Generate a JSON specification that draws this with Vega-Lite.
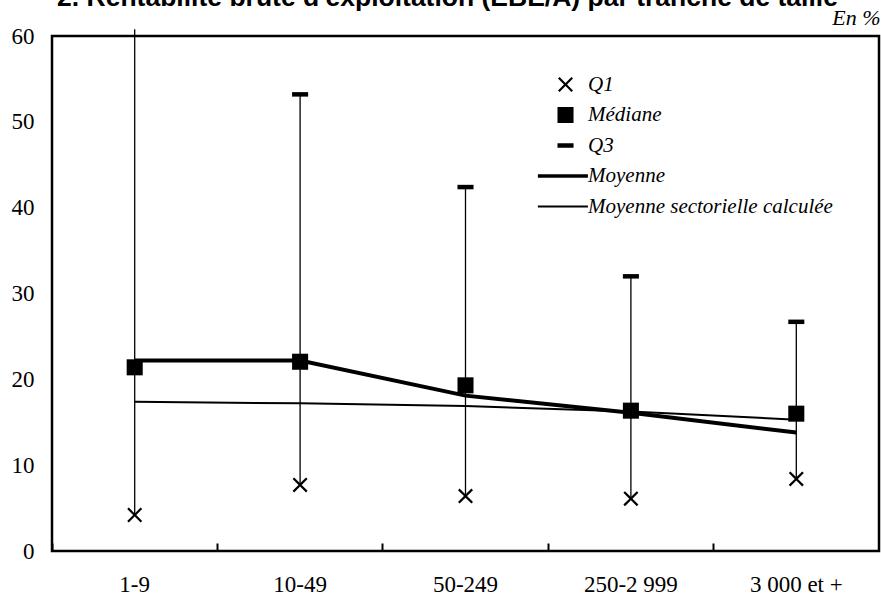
{
  "$schema": "https://vega.github.io/schema/vega-lite/v6.json",
  "width": 827,
  "height": 515,
  "autosize": {"type": "none"},
  "padding": {"left": 52, "top": 36, "right": 2, "bottom": 44},
  "background": "white",
  "title": {
    "text": "2. Rentabilité brute d'exploitation (EBE/A) par tranche de taille",
    "font": "'Liberation Sans', Arial, sans-serif",
    "fontSize": 26.5,
    "fontWeight": "bold",
    "color": "#000",
    "anchor": "middle",
    "baseline": "alphabetic",
    "offset": -26,
    "dx": -18
  },
  "config": {
    "view": {"stroke": "#000", "strokeWidth": 2.5},
    "legend": {"symbolLimit": 0}
  },
  "data": {
    "values": [
      {"tranche": "1-9", "q1": 4.2, "med": 21.4, "q3": 60.8, "moy": 22.2, "sect": 17.4},
      {"tranche": "10-49", "q1": 7.7, "med": 22.05, "q3": 53.2, "moy": 22.2, "sect": 17.2},
      {"tranche": "50-249", "q1": 6.4, "med": 19.3, "q3": 42.4, "moy": 18.1, "sect": 16.9},
      {"tranche": "250-2 999", "q1": 6.1, "med": 16.35, "q3": 32.0, "moy": 16.1, "sect": 16.25},
      {"tranche": "3 000 et +", "q1": 8.4, "med": 16.0, "q3": 26.7, "moy": 13.8, "sect": 15.3}
    ]
  },
  "encoding": {
    "x": {
      "field": "tranche",
      "type": "nominal",
      "sort": null,
      "scale": {"paddingInner": 0, "paddingOuter": 0},
      "axis": {
        "title": null,
        "labelAngle": 0,
        "labelFont": "'Liberation Serif', 'Times New Roman', 'DejaVu Serif', serif",
        "labelFontSize": 23,
        "labelColor": "#000",
        "domain": false,
        "ticks": true,
        "bandPosition": 0,
        "tickSize": -8,
        "tickWidth": 2,
        "tickColor": "#000",
        "labelPadding": 30
      }
    }
  },
  "layer": [
    {
      "mark": {"type": "rule", "color": "#000", "strokeWidth": 1.3},
      "encoding": {
        "y": {
          "field": "q1",
          "type": "quantitative",
          "scale": {"domain": [0, 60], "nice": false},
          "axis": {
            "title": "En %",
            "titleAngle": 0,
            "titleAlign": "right",
            "titleBaseline": "alphabetic",
            "titleX": 828,
            "titleY": -12,
            "titleFont": "'Liberation Serif', 'Times New Roman', 'DejaVu Serif', serif",
            "titleFontStyle": "italic",
            "titleFontWeight": "normal",
            "titleFontSize": 22,
            "titleColor": "#000",
            "values": [0, 10, 20, 30, 40, 50, 60],
            "labelFont": "'Liberation Serif', 'Times New Roman', 'DejaVu Serif', serif",
            "labelFontSize": 23,
            "labelColor": "#000",
            "ticks": false,
            "domain": false,
            "grid": false,
            "labelPadding": 18
          }
        },
        "y2": {"field": "q3"}
      }
    },
    {
      "mark": {"type": "line", "color": "#000", "strokeWidth": 2},
      "encoding": {"y": {"field": "sect", "type": "quantitative"}}
    },
    {
      "mark": {"type": "line", "color": "#000", "strokeWidth": 4},
      "encoding": {"y": {"field": "moy", "type": "quantitative"}}
    },
    {
      "mark": {"type": "point", "filled": true, "opacity": 1, "size": 225, "color": "#000", "strokeWidth": 0},
      "encoding": {
        "y": {"field": "q1", "type": "quantitative"},
        "shape": {
          "datum": "Q1",
          "scale": {
            "domain": ["Q1", "Médiane", "Q3", "Moyenne", "Moyenne sectorielle calculée"],
            "range": [
              "M-0.79,-1L0,-0.21L0.79,-1L1,-0.79L0.21,0L1,0.79L0.79,1L0,0.21L-0.79,1L-1,0.79L-0.21,0L-1,-0.79Z",
              "M-1.07,-1.07H1.07V1.07H-1.07Z",
              "M-1.07,-0.3H1.07V0.3H-1.07Z",
              "M-3.68,-0.23H2.99V0.23H-3.68Z",
              "M-3.68,-0.12H2.99V0.12H-3.68Z"
            ]
          },
          "legend": {
            "orient": "none",
            "legendX": 503,
            "legendY": 38,
            "title": null,
            "symbolSize": 225,
            "symbolFillColor": "#000",
            "symbolStrokeWidth": 0,
            "symbolOpacity": 1,
            "labelFont": "'Liberation Serif', 'Times New Roman', 'DejaVu Serif', serif",
            "labelFontStyle": "italic",
            "labelFontSize": 21,
            "labelColor": "#000",
            "labelOffset": 12,
            "labelLimit": 400,
            "rowPadding": 8.5,
            "padding": 0
          }
        }
      }
    },
    {
      "mark": {"type": "point", "filled": true, "opacity": 1, "size": 225, "color": "#000", "strokeWidth": 0},
      "encoding": {
        "y": {"field": "med", "type": "quantitative"},
        "shape": {"datum": "Médiane"}
      }
    },
    {
      "transform": [{"filter": "datum.q3 <= 60"}],
      "mark": {"type": "point", "filled": true, "opacity": 1, "size": 225, "color": "#000", "strokeWidth": 0},
      "encoding": {
        "y": {"field": "q3", "type": "quantitative"},
        "shape": {"datum": "Q3"}
      }
    }
  ]
}
